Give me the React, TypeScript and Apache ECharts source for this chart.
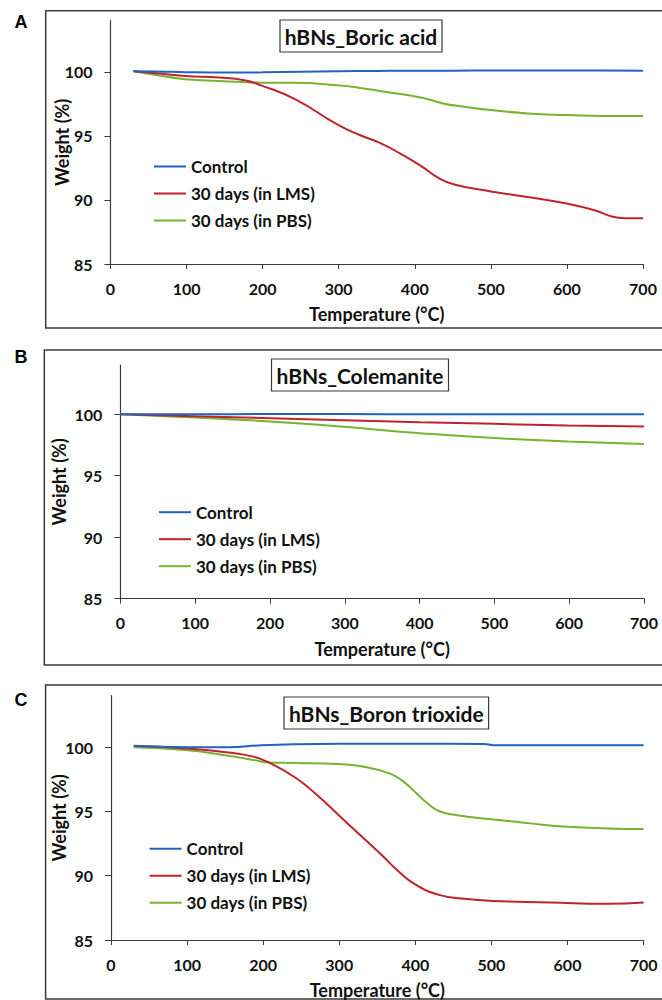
import { useEffect, useRef } from "react";
import * as echarts from "echarts";

// ---------- data ----------
const seriesNames = ["Control", "30 days (in LMS)", "30 days (in PBS)"];
const panelTitles = ["hBNs_Boric acid", "hBNs_Colemanite", "hBNs_Boron trioxide"];
const panelLetters = ["A", "B", "C"];
const tempTicks = [0, 100, 200, 300, 400, 500, 600, 700];
const weightTicks = [85, 90, 95, 100];

const boricControl = [[30, 100.05], [60, 100.04], [100, 99.98], [150, 99.95], [200, 99.97], [250, 100.02], [300, 100.05], [350, 100.08], [400, 100.1], [450, 100.1], [500, 100.12], [550, 100.12], [600, 100.12], [650, 100.12], [700, 100.1]];
const boricLMS = [[30, 100.05], [60, 99.9], [98, 99.69], [143, 99.56], [176, 99.35], [198, 98.95], [243, 97.86], [298, 95.9], [326, 95.11], [354, 94.46], [381, 93.62], [409, 92.63], [431, 91.72], [453, 91.19], [500, 90.67], [548, 90.23], [601, 89.7], [637, 89.18], [659, 88.71], [676, 88.58], [700, 88.58]];
const boricPBS = [[30, 100.08], [54, 99.82], [98, 99.43], [143, 99.3], [198, 99.16], [243, 99.16], [298, 98.95], [326, 98.77], [354, 98.51], [409, 97.99], [437, 97.54], [465, 97.28], [500, 97.02], [548, 96.76], [601, 96.63], [648, 96.55], [700, 96.55]];

const coleControl = [[0, 100.0], [100, 100.0], [200, 100.01], [300, 100.01], [400, 100.0], [500, 100.0], [600, 100.0], [700, 100.0]];
const coleLMS = [[0, 100.0], [99, 99.84], [200, 99.68], [299, 99.51], [401, 99.35], [500, 99.22], [598, 99.08], [700, 99.0]];
const colePBS = [[0, 100.0], [99, 99.73], [200, 99.41], [299, 98.97], [401, 98.46], [500, 98.06], [598, 97.79], [700, 97.57]];

const boronControl = [[30, 100.08], [98, 100.0], [154, 100.0], [198, 100.15], [243, 100.23], [300, 100.26], [400, 100.26], [490, 100.25], [503, 100.15], [600, 100.15], [700, 100.15]];
const boronLMS = [[30, 100.1], [98, 99.9], [154, 99.59], [187, 99.26], [209, 98.75], [243, 97.6], [270, 96.31], [298, 94.78], [326, 93.24], [354, 91.71], [381, 90.17], [401, 89.28], [431, 88.51], [465, 88.2], [500, 88.04], [576, 87.92], [653, 87.81], [700, 87.92]];
const boronPBS = [[30, 100.0], [98, 99.77], [154, 99.33], [187, 99.0], [209, 98.8], [243, 98.77], [298, 98.69], [331, 98.49], [365, 97.98], [381, 97.47], [401, 96.44], [415, 95.67], [431, 95.03], [453, 94.73], [500, 94.39], [548, 94.09], [601, 93.8], [653, 93.68], [700, 93.63]];

const panelData = [
  [boricControl, boricLMS, boricPBS],
  [coleControl, coleLMS, colePBS],
  [boronControl, boronLMS, boronPBS],
];

// ---------- layout / style ----------
const colors = ["#2361c4", "#c0232b", "#76b32f"];
const FONT = "Lato, 'Open Sans', sans-serif";
const layout = [
  { left: 110.5, top: 20.7, width: 532.5, height: 243.3, box: [45.7, 10.7, 328], title: [280, 20, 162, 32], legend: [149, 153], yGap: 40, letterY: 21.5 },
  { left: 120.4, top: 365, width: 523.6, height: 233.7, box: [44.3, 350, 665], title: [271.5, 359, 177, 32], legend: [154, 498.7], yGap: 52, letterY: 357 },
  { left: 111, top: 695.7, width: 532.6, height: 248.3, box: [45.6, 685, 999], title: [284, 697, 204.6, 32], legend: [144.6, 835.3], yGap: 43, letterY: 700 },
];

export default function App() {
  const ref = useRef<HTMLDivElement>(null);
  useEffect(() => {
    if (!ref.current) return;
    const chart = echarts.init(ref.current, null, { renderer: "svg" });
    const axisLine = { lineStyle: { color: "#3a3a3a", width: 1.2 } };
    const grid = layout.map((l) => ({ left: l.left, top: l.top, width: l.width, height: l.height }));
    const xAxis = layout.map((_, i) => ({
      type: "value",
      gridIndex: i,
      min: 0,
      max: 700,
      interval: 100,
      name: "Temperature (°C)",
      nameLocation: "middle",
      nameGap: 41,
      nameMoveOverlap: false,
      nameTextStyle: { fontFamily: FONT, fontWeight: "bold", fontSize: 18, color: "#111" },
      axisLine: { show: true, onZero: false, ...axisLine },
      axisTick: { show: true, length: 5, lineStyle: { color: "#3a3a3a" }, customValues: tempTicks },
      axisLabel: { fontFamily: FONT, fontWeight: "bold", fontSize: 16, color: "#111", margin: 16, customValues: tempTicks },
      splitLine: { show: false },
    }));
    const yAxis = layout.map((l, i) => ({
      type: "value",
      gridIndex: i,
      min: 85,
      max: 104,
      interval: 5,
      name: "Weight (%)",
      nameLocation: "middle",
      nameGap: l.yGap,
      nameMoveOverlap: false,
      nameTextStyle: { fontFamily: FONT, fontWeight: "bold", fontSize: 18, color: "#111" },
      axisLine: { show: true, ...axisLine },
      axisTick: { show: true, length: 6, lineStyle: { color: "#3a3a3a" }, customValues: weightTicks },
      axisLabel: { fontFamily: FONT, fontWeight: "bold", fontSize: 16, color: "#111", margin: 18, customValues: weightTicks },
      splitLine: { show: false },
    }));
    const series: any[] = [];
    panelData.forEach((group, p) => {
      group.forEach((data, s) => {
        series.push({
          type: "line",
          name: seriesNames[s],
          xAxisIndex: p,
          yAxisIndex: p,
          data,
          showSymbol: false,
          smooth: 0.5,
          lineStyle: { color: colors[s], width: 2 },
          itemStyle: { color: colors[s] },
          z: 3 - s,
        });
      });
    });
    const legend = layout.map((l) => ({
      orient: "vertical",
      left: l.legend[0],
      top: l.legend[1],
      data: seriesNames,
      icon: "rect",
      itemWidth: 32,
      itemHeight: 2,
      itemGap: 10,
      selectedMode: false,
      textStyle: { fontFamily: FONT, fontWeight: "bold", fontSize: 17, lineHeight: 16, color: "#111" },
    }));
    const graphic: any[] = [];
    layout.forEach((l, i) => {
      graphic.push({
        type: "rect",
        shape: { x: l.box[0], y: l.box[1], width: 700, height: l.box[2] - l.box[1] },
        style: { fill: "none", stroke: "#3a3a3a", lineWidth: 1.5 },
        silent: true,
      });
      graphic.push({
        type: "text",
        x: 21,
        y: l.letterY,
        style: { text: panelLetters[i], fontFamily: "'Liberation Sans', Arial, sans-serif", fontWeight: "bold", fontSize: 18, fill: "#000", align: "center", verticalAlign: "middle" },
      });
      graphic.push({
        type: "rect",
        shape: { x: l.title[0], y: l.title[1], width: l.title[2], height: l.title[3] },
        style: { fill: "#fff", stroke: "#3a3a3a", lineWidth: 1.2 },
        z: 10,
      });
      graphic.push({
        type: "text",
        x: l.title[0] + l.title[2] / 2,
        y: l.title[1] + l.title[3] / 2,
        style: { text: panelTitles[i], fontFamily: FONT, fontWeight: "bold", fontSize: 21, fill: "#111", align: "center", verticalAlign: "middle" },
        z: 11,
      });
    });
    chart.setOption({
      animation: false,
      backgroundColor: "#fff",
      grid,
      xAxis,
      yAxis,
      series,
      legend,
      graphic,
    });
    return () => chart.dispose();
  }, []);
  return <div ref={ref} style={{ position: "absolute", left: 0, top: 0, width: 662, height: 1000 }} />;
}
